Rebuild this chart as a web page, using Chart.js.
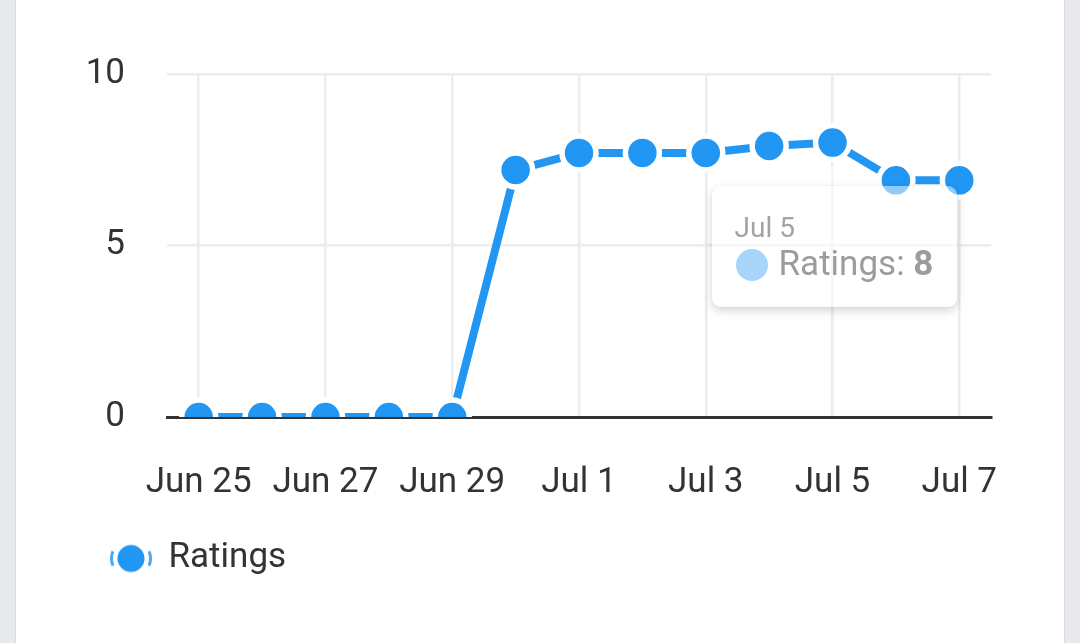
<!DOCTYPE html>
<html><head><meta charset="utf-8">
<script src="https://cdn.jsdelivr.net/npm/chart.js@4.4.1/dist/chart.umd.min.js"></script>
<style>
html,body{margin:0;padding:0;background:#e8e9ec;}
#wrap{position:relative;width:1080px;height:643px;overflow:hidden;}
#card{position:absolute;left:15px;top:0;width:1050px;height:643px;background:#fff;border-left:1px solid #dcdde0;border-right:1px solid #dcdde0;box-sizing:border-box;}
#c{position:absolute;left:0;top:0;}
#tip{position:absolute;display:none;width:245px;height:141px;font-family:Roboto,sans-serif;pointer-events:none;}
#tipbox{position:absolute;left:1px;top:20px;width:245px;height:121px;background:rgba(255,255,255,0.5);border-radius:9px;box-shadow:0 4px 10px rgba(0,0,0,0.16),0 0 3px rgba(0,0,0,0.06);}
#caret{position:absolute;left:106px;top:0;width:32px;height:20px;background:rgba(255,255,255,0.5);clip-path:polygon(50% 0,100% 100%,0 100%);}
#tiptitle{position:absolute;left:23px;top:28.5px;font-size:28px;line-height:28px;color:#a3a3a3;white-space:nowrap;}
#tipdot{position:absolute;left:24px;top:63px;width:32px;height:32px;border-radius:50%;background:#a6d4fa;}
#tipbody{position:absolute;left:67px;top:60px;font-size:35px;line-height:35px;color:#9c9c9c;white-space:nowrap;}
</style></head>
<body>
<div id="wrap">
  <div id="card"></div>
  <canvas id="c" width="1080" height="643"></canvas>
  <div id="tip"><div id="caret"></div><div id="tipbox"><div id="tiptitle"></div><div id="tipdot"></div><div id="tipbody"></div></div></div>
</div>
<script>
const labels = ['Jun 25','Jun 26','Jun 27','Jun 28','Jun 29','Jun 30','Jul 1','Jul 2','Jul 3','Jul 4','Jul 5','Jul 6','Jul 7'];
const ratings = [0, 0, 0, 0, 0, 7.2, 7.7, 7.7, 7.7, 7.9, 8, 6.9, 6.9];
const seriesName = 'Ratings';
const yMin = 0, yMax = 10, yStep = 5;
const tooltipIndex = 10;

const BLUE = '#2196f3';
const FONT = 'Roboto, sans-serif';

// legend icon
const icon = document.createElement('canvas');
icon.width = 46; icon.height = 46;
(function(){
  const g = icon.getContext('2d');
  g.fillStyle = BLUE;
  g.beginPath(); g.arc(23, 23, 13.5, 0, Math.PI*2); g.fill();
  g.strokeStyle = '#4aa8f5'; g.lineWidth = 3;
  const a = 22*Math.PI/180;
  g.beginPath(); g.arc(23, 23, 19.5, -a, a); g.stroke();
  g.beginPath(); g.arc(23, 23, 19.5, Math.PI-a, Math.PI+a); g.stroke();
})();

function externalTip({chart, tooltip}) {
  const el = document.getElementById('tip');
  if (!tooltip || tooltip.opacity === 0 || !tooltip.dataPoints || !tooltip.dataPoints.length) { el.style.display = 'none'; return; }
  const dp = tooltip.dataPoints[0];
  document.getElementById('tiptitle').textContent = tooltip.title[0];
  document.getElementById('tipbody').innerHTML = dp.dataset.label + ': <b>' + dp.formattedValue + '</b>';
  el.style.left = (tooltip.caretX - 122) + 'px';
  el.style.top = (tooltip.caretY + 23) + 'px';
  el.style.display = 'block';
}

const legendShift = {
  id: 'legendShift',
  afterLayout(ch) { if (ch.legend) { ch.legend.left += 41; } }
};

const chart = new Chart(document.getElementById('c'), {
  type: 'line',
  data: {
    labels: labels,
    datasets: [{
      label: seriesName,
      data: ratings,
      borderColor: BLUE,
      backgroundColor: BLUE,
      borderWidth: 8,
      tension: 0,
      pointRadius: 17,
      pointHoverRadius: 17,
      pointBorderWidth: 5.5,
      pointHoverBorderWidth: 5.5,
      pointBorderColor: '#ffffff',
      pointHoverBorderColor: '#ffffff',
      pointBackgroundColor: BLUE,
      pointHoverBackgroundColor: BLUE
    }]
  },
  plugins: [legendShift],
  options: {
    responsive: false,
    devicePixelRatio: 1,
    animation: false,
    events: [],
    layout: { padding: { top: 74, right: 89, left: 60, bottom: 57 } },
    scales: {
      x: {
        offset: true,
        afterFit: s => { s.height = 114; },
        grid: {
          offset: false,
          drawTicks: false,
          lineWidth: 2.5,
          color: c => (c.index % 2 === 0 ? '#ececec' : 'rgba(0,0,0,0)')
        },
        border: { display: true, color: '#333333', width: 3 },
        ticks: {
          autoSkip: false,
          maxRotation: 0,
          minRotation: 0,
          padding: 45,
          color: '#333333',
          font: { family: FONT, size: 35 },
          callback: (v, i) => (i % 2 === 0 ? labels[i] : '')
        }
      },
      y: {
        min: yMin, max: yMax,
        afterFit: s => { s.width = 107; },
        grid: { drawTicks: false, lineWidth: 2.5, color: '#ececec' },
        border: { display: false },
        ticks: {
          stepSize: yStep,
          padding: 42,
          color: '#333333',
          font: { family: FONT, size: 35 }
        }
      }
    },
    plugins: {
      legend: {
        position: 'bottom',
        align: 'start',
        labels: {
          usePointStyle: true,
          pointStyleWidth: 40,
          padding: 10,
          color: '#333333',
          font: { family: FONT, size: 35 },
          generateLabels: (ch) => {
            const items = Chart.defaults.plugins.legend.labels.generateLabels(ch);
            items.forEach(it => { it.pointStyle = icon; });
            return items;
          }
        }
      },
      tooltip: {
        enabled: false,
        animation: false,
        external: externalTip
      }
    }
  }
});

chart.tooltip.setActiveElements([{ datasetIndex: 0, index: tooltipIndex }], { x: 0, y: 0 });
chart.update();
</script>
</body></html>
